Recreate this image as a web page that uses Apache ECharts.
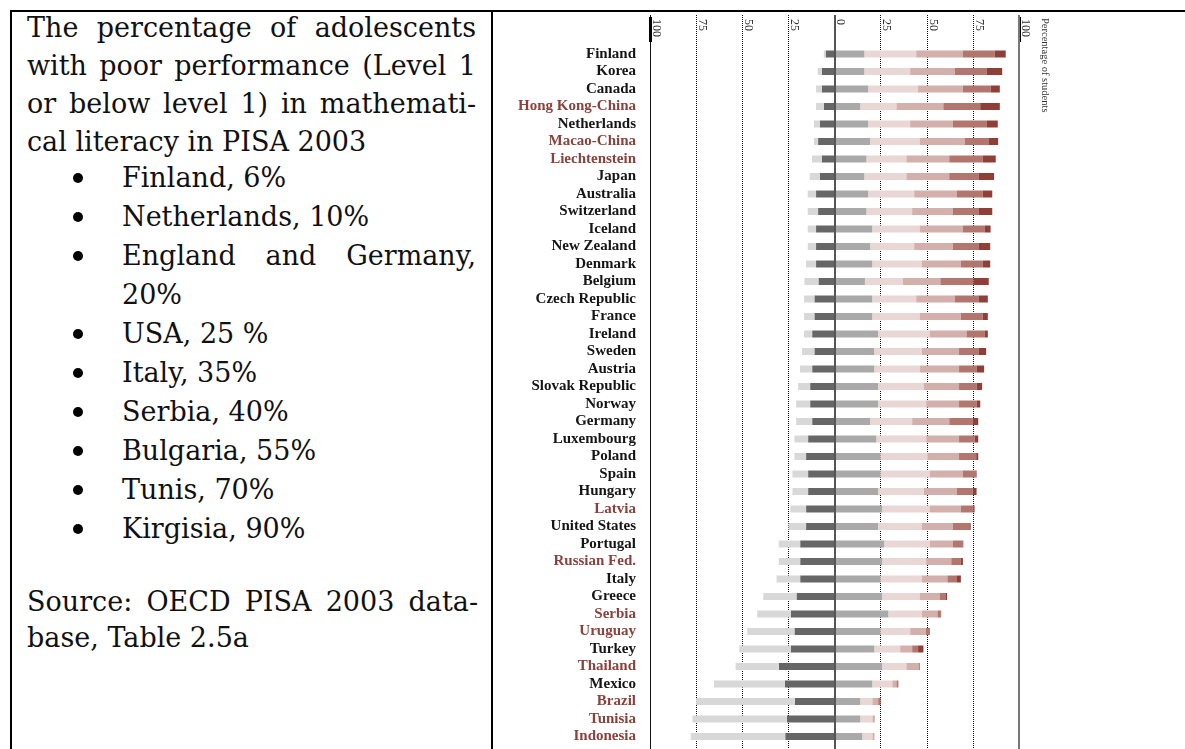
<!DOCTYPE html>
<html>
<head>
<meta charset="utf-8">
<title>PISA 2003 - mathematics proficiency levels</title>
<script src="https://cdn.jsdelivr.net/npm/echarts@6/dist/echarts.min.js"></script>
<style>
    html, body { margin: 0; padding: 0; background: #fff; }
    body {
        width: 1185px; height: 749px; position: relative; overflow: hidden;
        font-family: 'DejaVu Serif', serif; color: #111;
    }
    .rule { position: absolute; background: #000; }
    .note { position: absolute; font-size: 27px; }
    .note .just { text-align: justify; text-align-last: justify; }
    .title { left: 27px; top: 9px; width: 449px; line-height: 38px; }
    .bullets { left: 122px; top: 158px; width: 354px; line-height: 39px; }
    .bullets .li { position: relative; }
    .bullets .li.dot::before {
        content: ''; position: absolute; left: -49px; top: 15px;
        width: 10px; height: 10px; border-radius: 50%; background: #000;
    }
    .source { left: 27px; top: 584px; width: 451px; line-height: 36px; }
    #levelChart { position: absolute; left: 494px; top: 13px; width: 691px; height: 736px; }
</style>
</head>
<body>
    <div class="rule" style="left:10px;top:10px;width:1175px;height:2px"></div>
    <div class="rule" style="left:10px;top:10px;width:2px;height:739px"></div>
    <div class="rule" style="left:491px;top:10px;width:2px;height:739px"></div>

    <div class="note title">
        <div class="just">The percentage of adolescents</div>
        <div class="just">with poor performance (Level 1</div>
        <div class="just">or below level 1) in mathemati-</div>
        <div>cal literacy in PISA 2003</div>
    </div>
    <div class="note bullets">
        <div class="li dot">Finland, 6%</div>
        <div class="li dot">Netherlands, 10%</div>
        <div class="li dot just">England and Germany,</div>
        <div class="li">20%</div>
        <div class="li dot">USA, 25 %</div>
        <div class="li dot">Italy, 35%</div>
        <div class="li dot">Serbia, 40%</div>
        <div class="li dot">Bulgaria, 55%</div>
        <div class="li dot">Tunis, 70%</div>
        <div class="li dot">Kirgisia, 90%</div>
    </div>
    <div class="note source">
        <div class="just">Source: OECD PISA 2003 data-</div>
        <div>base, Table 2.5a</div>
    </div>

    <div id="levelChart"></div>

<script>
// countries, top to bottom
const countries = ['Finland', 'Korea', 'Canada', 'Hong Kong-China', 'Netherlands', 'Macao-China',
    'Liechtenstein', 'Japan', 'Australia', 'Switzerland', 'Iceland', 'New Zealand', 'Denmark',
    'Belgium', 'Czech Republic', 'France', 'Ireland', 'Sweden', 'Austria', 'Slovak Republic',
    'Norway', 'Germany', 'Luxembourg', 'Poland', 'Spain', 'Hungary', 'Latvia', 'United States',
    'Portugal', 'Russian Fed.', 'Italy', 'Greece', 'Serbia', 'Uruguay', 'Turkey', 'Thailand',
    'Mexico', 'Brazil', 'Tunisia', 'Indonesia'];

// partner (non-OECD) countries, labelled in red
const partners = ['Hong Kong-China', 'Macao-China', 'Liechtenstein', 'Latvia', 'Russian Fed.',
    'Serbia', 'Uruguay', 'Thailand', 'Brazil', 'Tunisia', 'Indonesia'];

// percentage of students at each proficiency level
const belowLevel1 = [1.0, 2.2, 3.1, 4.2, 3.1, 2.2, 5.3, 5.4, 4.5, 5.6, 4.5, 4.5, 5.4,
    7.6, 5.6, 5.6, 4.4, 6.7, 6.6, 6.5, 7.6, 8.7, 7.4, 6.3, 8.5, 8.5, 8.5, 9.5,
    11.6, 11.6, 12.8, 18.0, 18.2, 25.6, 27.9, 23.4, 38.4, 53.5, 51.2, 51.2];
const level1 = [4.8, 6.9, 6.9, 5.8, 8.0, 8.9, 6.9, 8.0, 10.0, 8.9, 10.0, 10.0, 10.0,
    8.7, 10.9, 10.9, 12.1, 10.9, 12.1, 13.2, 13.2, 12.1, 14.3, 15.4, 14.3, 14.3, 15.4, 15.4,
    18.6, 18.6, 18.6, 20.6, 23.7, 21.7, 23.7, 30.2, 26.9, 21.5, 25.8, 26.7];
const level2 = [16.3, 16.3, 18.4, 14.1, 18.4, 19.5, 17.4, 16.3, 18.4, 17.4, 20.6, 19.5, 20.6,
    16.5, 20.6, 20.6, 23.7, 21.7, 21.7, 23.7, 23.7, 19.5, 22.8, 25.0, 25.0, 23.7, 26.0, 23.7,
    27.1, 26.0, 25.0, 26.0, 29.3, 25.0, 21.7, 26.0, 20.6, 14.1, 14.1, 15.2];
const level3 = [28.0, 24.7, 26.9, 19.5, 22.6, 26.7, 21.6, 22.7, 24.8, 24.7, 25.6, 23.7, 26.7,
    20.6, 23.7, 25.6, 27.9, 25.6, 24.5, 24.7, 26.0, 22.6, 26.9, 25.6, 26.6, 24.7, 25.6, 23.6,
    24.5, 23.7, 22.3, 20.2, 18.0, 16.0, 13.9, 13.0, 10.8, 6.5, 6.5, 5.4];
const level4 = [25.3, 24.3, 24.3, 25.4, 23.2, 24.5, 23.2, 23.2, 23.2, 22.1, 23.4, 21.0, 21.2,
    20.3, 21.0, 22.3, 20.0, 20.2, 21.3, 19.1, 17.8, 20.1, 17.8, 16.9, 18.0, 18.0, 16.9, 16.9,
    12.6, 13.6, 13.9, 10.8, 8.5, 8.5, 6.5, 6.6, 2.2, 3.1, 1.0, 0.9];
const level5 = [17.2, 17.3, 15.0, 20.0, 18.4, 13.0, 18.1, 16.1, 13.9, 14.1, 11.7, 14.1, 11.8,
    17.9, 13.0, 11.8, 9.7, 10.8, 9.5, 9.5, 9.5, 12.6, 8.4, 9.3, 6.8, 8.6, 6.8, 8.9,
    5.4, 5.2, 5.2, 3.1, 1.7, 1.9, 3.2, 0.6, 0.9, 1.2, 0.2, 0.1];
const level6 = [6.0, 8.3, 5.0, 10.6, 5.9, 5.0, 7.1, 8.2, 5.2, 7.2, 3.3, 6.1, 4.1,
    8.3, 4.8, 2.8, 1.8, 3.9, 4.1, 3.0, 2.0, 3.1, 2.0, 1.1, 0.6, 2.0, 0.6, 0.7,
    0.2, 1.1, 2.1, 0.9, 0.3, 0.3, 2.9, 0.1, 0.1, 0.2, 0.0, 0.0];

// x axis ticks (percentage of students)
const tickMin = -100;
const tickMax = 100;
const tickStep = 25;

document.addEventListener('DOMContentLoaded', function () {
    initializeChart();
});

// set up the chart
function initializeChart() {
    const chartDom = document.getElementById('levelChart');
    if (!chartDom) {
        console.error('Error: Unable to find chart container.');
        return;
    }
    const levelChart = echarts.init(chartDom, null, { renderer: 'canvas' });
    levelChart.setOption(getChartOptions());
    window.levelChart = levelChart;
}

// one x axis holding only split lines
function lineAxis(gridIndex, lineStyle, z) {
    return {
        type: 'value', gridIndex: gridIndex, min: tickMin, max: tickMax, interval: tickStep,
        z: z || 0,
        axisLine: { show: false }, axisTick: { show: false }, axisLabel: { show: false },
        splitLine: { show: true, lineStyle: lineStyle }
    };
}

function hiddenY(gridIndex) {
    return { type: 'value', gridIndex: gridIndex, show: false };
}

// one stacked segment
function levelBar(name, data, color) {
    return {
        name: name,
        type: 'bar',
        stack: 'levels',
        xAxisIndex: 4,
        yAxisIndex: 4,
        barWidth: 7,
        z: 2,
        silent: true,
        data: data,
        itemStyle: { color: color }
    };
}

function getChartOptions() {
    const t = 'rgba(0,0,0,0)';
    const plotRect = { left: 156, width: 369, outerBoundsMode: 'none' };

    return {
        animation: false,
        grid: [
            Object.assign({ top: 2, bottom: 0 }, plotRect),      // dotted lines
            Object.assign({ top: 2, bottom: 0 }, plotRect),      // left 100 line
            Object.assign({ top: 2, bottom: 0 }, plotRect),      // zero and right 100 lines
            Object.assign({ top: 4, height: 25 }, plotRect),     // tick labels
            Object.assign({ top: 32.25, height: 700 }, plotRect) // bars
        ],
        xAxis: [
            lineAxis(0, { color: [t, '#111', '#111', '#111', t, '#111', '#111', '#111', t], width: 1, type: [1, 1] }),
            lineAxis(1, { color: ['#111', t, t, t, t, t, t, t, t], width: 1 }),
            lineAxis(2, { color: [t, t, t, t, '#555', t, t, t, '#777'], width: 2 }, 5),
            {
                type: 'value', gridIndex: 3, position: 'top',
                min: tickMin, max: tickMax, interval: tickStep,
                axisLine: { show: false }, axisTick: { show: false },
                splitLine: { show: true, lineStyle: { color: ['#000', t, t, t, t, t, t, t], width: 3 } },
                axisLabel: {
                    inside: true,
                    rotate: -90,
                    margin: 2,
                    align: 'left',
                    verticalAlign: 'bottom',
                    fontFamily: 'Liberation Serif',
                    fontSize: 12,
                    color: '#333',
                    formatter: v => String(Math.abs(v))
                }
            },
            {
                type: 'value', gridIndex: 4, min: tickMin, max: tickMax, interval: tickStep,
                show: false
            }
        ],
        yAxis: [
            hiddenY(0), hiddenY(1), hiddenY(2), hiddenY(3),
            {
                type: 'category',
                gridIndex: 4,
                inverse: true,
                data: countries,
                axisLine: { show: false },
                axisTick: { show: false },
                splitLine: { show: false },
                axisLabel: {
                    margin: 14,
                    formatter: name => (partners.indexOf(name) >= 0 ? '{p|' + name + '}' : '{o|' + name + '}'),
                    rich: {
                        o: { color: '#151515', fontFamily: 'Liberation Serif', fontWeight: 'bold', fontSize: 15 },
                        p: { color: '#8c423c', fontFamily: 'Liberation Serif', fontWeight: 'bold', fontSize: 15 }
                    }
                }
            }
        ],
        graphic: [{
            type: 'text',
            x: 551,
            y: 5,
            rotation: -Math.PI / 2,
            style: {
                text: 'Percentage of students',
                fontFamily: 'Liberation Serif',
                fontSize: 10.5,
                fill: '#333',
                align: 'left',
                verticalAlign: 'middle'
            }
        }],
        series: [
            levelBar('Level 1', level1.map(v => -v), '#666666'),
            levelBar('Below Level 1', belowLevel1.map(v => -v), '#d8d8d8'),
            levelBar('Level 2', level2, '#a9a9a9'),
            levelBar('Level 3', level3, '#e9d7d5'),
            levelBar('Level 4', level4, '#d3b0ac'),
            levelBar('Level 5', level5, '#b2766f'),
            levelBar('Level 6', level6, '#8e3f38')
        ]
    };
}
</script>
</body>
</html>
